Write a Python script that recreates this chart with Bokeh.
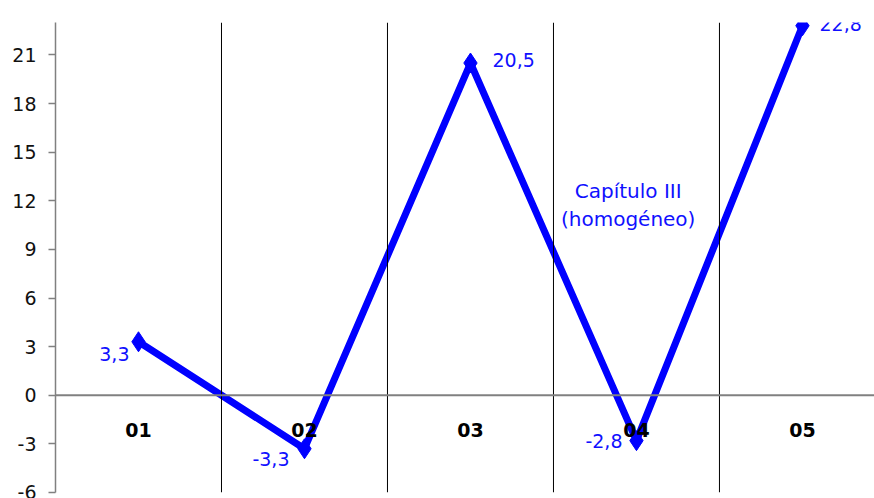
from bokeh.plotting import figure
from bokeh.models import Span, Range1d, FixedTicker, ColumnDataSource, CustomJSTickFormatter
from bokeh.core.properties import value
from bokeh.embed import file_html
from bokeh.resources import INLINE

categories = ["01", "02", "03", "04", "05"]
values = [3.3, -3.3, 20.5, -2.8, 22.8]
value_labels = ["3,3", "-3,3", "20,5", "-2,8", "22,8"]
y_ticks = [-6, -3, 0, 3, 6, 9, 12, 15, 18, 21]
annotation_lines = ["Capítulo III", "(homogéneo)"]

xs = list(range(1, len(categories) + 1))

# label placement (pixels)
lab_dx = [-9, -15, 22, -14, 17]
lab_dy = [12, 10, -3, 0, -2]
lab_align = ["right", "right", "left", "right", "left"]

p = figure(width=874, height=498, output_backend="svg", toolbar_location=None,
           x_range=Range1d(0.5, 5.434), y_range=Range1d(-6, 23),
           min_border_left=55, min_border_right=0, min_border_top=22, min_border_bottom=6)
p.outline_line_color = None
p.xgrid.visible = False
p.ygrid.visible = False
p.xaxis.visible = False

ax = p.yaxis[0]
ax.ticker = FixedTicker(ticks=y_ticks)
ax.formatter = CustomJSTickFormatter(code="return String(tick);")
ax.axis_line_color = "#808080"
ax.axis_line_width = 1.5
ax.major_tick_line_color = "#808080"
ax.major_tick_line_width = 1.5
ax.major_tick_out = 7
ax.major_tick_in = 0
ax.minor_tick_line_color = None
ax.major_label_text_font = "DejaVu Sans"
ax.major_label_text_font_size = "19px"
ax.major_label_text_color = "#111111"
ax.major_label_standoff = 12

for b in [1.5, 2.5, 3.5, 4.5]:
    p.add_layout(Span(location=b, dimension="height", line_color="black", line_width=1))
p.add_layout(Span(location=0, dimension="width", line_color="#808080", line_width=2))

src = ColumnDataSource(dict(x=xs, y=values, lab=value_labels, dx=lab_dx, dy=lab_dy, al=lab_align))
p.line("x", "y", source=src, line_color="#0000FF", line_width=7)
p.scatter("x", "y", source=src, marker="diamond", size=20, color="#0000FF")

p.text("x", "y", text="lab", x_offset="dx", y_offset="dy", text_align="al", source=src,
       text_baseline="middle", text_color="#1010FF", text_font=value("DejaVu Sans"),
       text_font_size="19px")

cat_src = ColumnDataSource(dict(x=xs, y=[-2.15] * len(xs), t=categories))
p.text("x", "y", text="t", source=cat_src, text_align="center", text_baseline="middle",
       text_color="black", text_font=value("DejaVu Sans"), text_font_size="19px",
       text_font_style="bold")

ann_src = ColumnDataSource(dict(x=[3.95, 3.95], y=[12.6, 10.9], t=annotation_lines))
p.text("x", "y", text="t", source=ann_src, text_align="center", text_baseline="middle",
       text_color="#1010FF", text_font=value("DejaVu Sans"), text_font_size="20px")

open("out.html", "w").write(file_html(p, INLINE))
